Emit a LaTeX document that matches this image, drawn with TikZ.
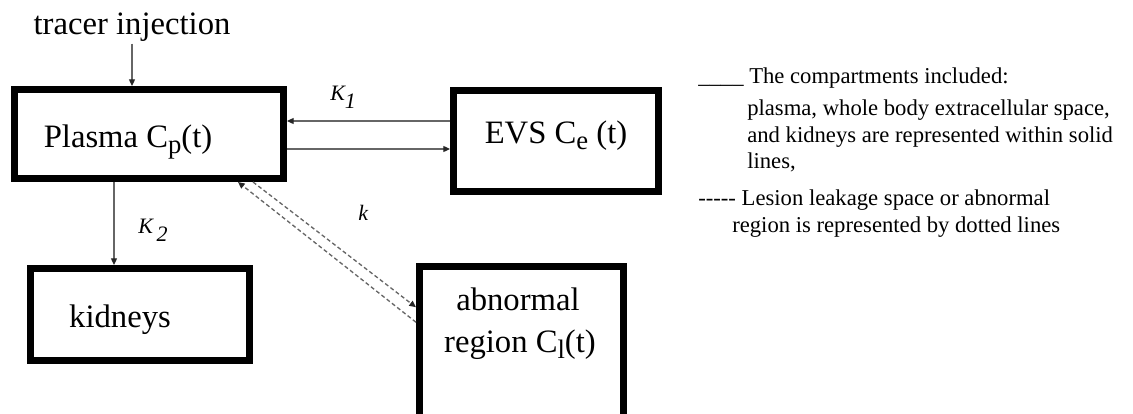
\documentclass[tikz,border=0pt]{standalone}
\usepackage{fontspec}
\setmainfont{Liberation Serif}
\usetikzlibrary{arrows.meta,calc}
\newcommand\pxu{0.75pt}
\newcommand\dn[1]{\raisebox{-0.45ex}{\fontsize{20pt}{20pt}\selectfont #1}}
\newcommand\kdn[1]{\raisebox{-6pt}{#1}}
\begin{document}
\begin{tikzpicture}[x=0.75pt,y=-0.75pt,
  box/.style={draw, line width=5.25pt, inner sep=0pt, outer sep=2.625pt},
  big/.style={font=\fontsize{24.5pt}{29pt}\selectfont, inner sep=1pt},
  lab/.style={font=\fontsize{16.5pt}{20pt}\selectfont\itshape, anchor=base west, inner sep=0pt},
  leg/.style={font=\fontsize{17pt}{20pt}\selectfont, anchor=base west, inner sep=0pt},
  arr/.style={draw=black!60, line width=0.9pt, -{Triangle[length=5pt,width=4.5pt,color=black!85]}},
  dsh/.style={draw=black!60, line width=1pt, dash pattern=on 3pt off 2pt, -{Triangle[length=5pt,width=4.5pt,color=black!85]}}
]
\useasboundingbox (0,0) rectangle (1133,414);
\clip (0,0) rectangle (1133,414);
% boxes
\node[box, minimum width=269*\pxu, minimum height=89*\pxu] (plasma) at (149,134) {};
\node[box, minimum width=205*\pxu, minimum height=101*\pxu] (evs) at (556,141) {};
\node[box, minimum width=219*\pxu, minimum height=92*\pxu] (kid) at (140,314.5) {};
\node[box, minimum width=204*\pxu, minimum height=183.5*\pxu] (abn) at (521.5,358.25) {};
% box texts
\node[big, anchor=base] (plasmaT) at (128,147) {Plasma C\dn{p}(t)};
\node[big, anchor=base] (evsT) at (556,143) {EVS C\dn{e} (t)};
\node[big, anchor=base] (kidT) at (120,327) {kidneys};
\node[big, anchor=base] (abnT1) at (518,310) {abnormal};
\node[big, anchor=base] (abnT2) at (520,352) {region C\dn{l}(t)};
\node[big, anchor=base] (tr) at (132,35) {tracer injection};
% labels
\node[lab] (k1) at (330,100) {K\kdn{1}};
\node[lab] (k2) at (138,233) {K\,\kdn{2}};
\node[lab] (kk) at (358,220) {k};
% connectors
\draw[arr] (tr.south) -- (tr.south |- plasma.north);
\coordinate (k1a) at ($(evs.west)+(0,-20)$);
\draw[arr] (k1a) -- (k1a -| plasma.east);
\coordinate (k1b) at ($(plasma.east)+(0,15)$);
\draw[arr] (k1b) -- (k1b -| evs.west);
\coordinate (k2a) at ($(plasma.south)+(-35,0)$);
\draw[arr] (k2a) -- (k2a |- kid.north);
\coordinate (da) at ($(plasma.south)+(104,0)$);
\coordinate (db) at ($(abn.west)+(0,-51)$);
\draw[dsh] (da) -- (db);
\coordinate (dc) at ($(abn.west)+(0,-36)$);
\coordinate (dd) at ($(plasma.south)+(89,0)$);
\draw[dsh] (dc) -- (dd);
% legend
\node[leg] (l1) at (698,83) {\_\_\_\_ The compartments included:};
\node[leg] (l2) at (747,115) {plasma, whole body extracellular space,};
\node[leg] (l3) at (747,142) {and kidneys are represented within solid};
\node[leg] (l4) at (747,168) {lines,};
\node[leg] (l5) at (698,205) {-{}-{}-{}-{}- Lesion leakage space or abnormal};
\node[leg] (l6) at (732,232) {region is represented by dotted lines};
\end{tikzpicture}
\end{document}
